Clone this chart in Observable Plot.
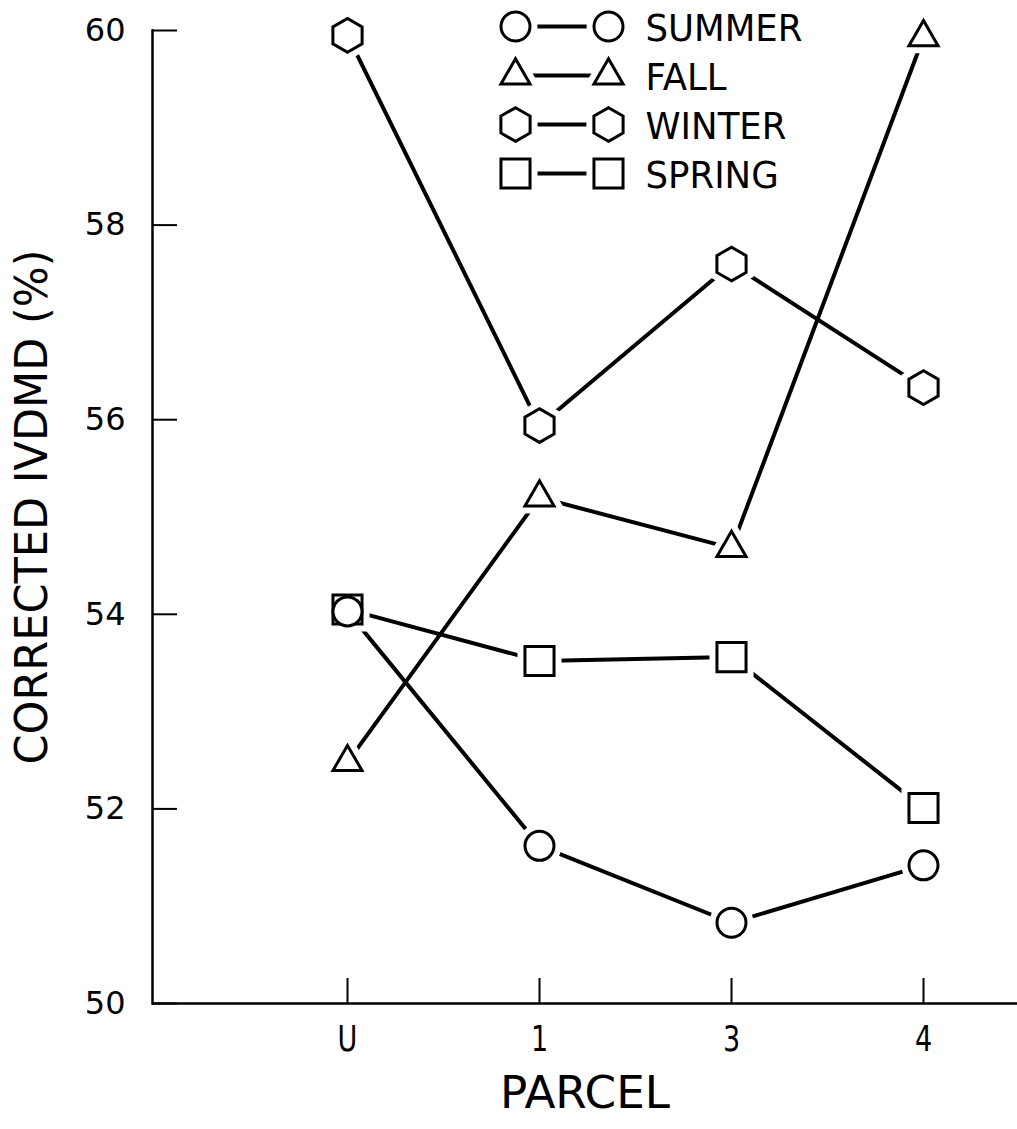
<!DOCTYPE html>
<html><head><meta charset="utf-8">
<script src="https://cdn.jsdelivr.net/npm/d3@7"></script>
<script src="https://cdn.jsdelivr.net/npm/@observablehq/plot@0.6"></script>
<style>
body{margin:0;background:#fff}
#wrap{position:relative;width:1017px;height:1129px;background:#fff}
#wrap svg.legend{position:absolute;left:480px;top:0}
</style>
</head><body><div id="wrap"></div>
<script>
// ---- data ----
const parcels = ["U", "1", "3", "4"];
const seasonNames = ["SUMMER", "FALL", "WINTER", "SPRING"];
const summer = [54.03, 51.62, 50.83, 51.42];
const fall = [52.48, 55.2, 54.68, 59.93];
const winter = [59.95, 55.94, 57.6, 56.33];
const spring = [54.05, 53.52, 53.56, 52.01];
const yTicks = [50, 52, 54, 56, 58, 60];
const yLabel = "CORRECTED IVDMD (%)";
const xLabel = "PARCEL";

// ---- styling ----
const series = {SUMMER: summer, FALL: fall, WINTER: winter, SPRING: spring};
const symbols = {SUMMER: "circle", FALL: "triangle", WINTER: "hexagon", SPRING: "square"};
const radii = {SUMMER: 14.5, FALL: 10.8, WINTER: 14.6, SPRING: 16.4};
const drawOrder = ["FALL", "WINTER", "SPRING", "SUMMER"];
const font = "'DejaVu Sans', 'Liberation Sans', sans-serif";

const rows = seasonNames.flatMap(s => parcels.map((p, i) => ({season: s, parcel: p, value: series[s][i]})));

const W = 1017, H = 1129, mL = 152, mR = 0, mT = 30, mB = 126;
const plotW = W - mL - mR, plotH = H - mT - mB;
const yLabelLength = 515;

function symbolMarks(data, xKey, yKey) {
  const halos = drawOrder.map(s => Plot.dot(data.filter(d => d.season === s), {
    x: xKey, y: yKey, symbol: symbols[s], r: radii[s], fill: "white", stroke: "white", strokeWidth: 15
  }));
  const dots = drawOrder.map(s => Plot.dot(data.filter(d => d.season === s), {
    x: xKey, y: yKey, symbol: symbols[s], r: radii[s], fill: "white", stroke: "black", strokeWidth: 3
  }));
  return [...halos, ...dots];
}

const chart = Plot.plot({
  width: W, height: H,
  marginLeft: mL, marginRight: mR, marginTop: mT, marginBottom: mB,
  style: {background: "white", color: "black"},
  x: {type: "point", domain: parcels, padding: 0.741, align: 0.675},
  y: {domain: [50, 60]},
  marks: [
    Plot.ruleY([50], {stroke: "black", strokeWidth: 2.5}),
    Plot.frame({anchor: "left", stroke: "black", strokeWidth: 2.5}),
    Plot.tickY(yTicks, {y: d => d, insetRight: plotW - 25, stroke: "black", strokeWidth: 2}),
    Plot.tickX(parcels, {x: d => d, insetTop: plotH - 25, stroke: "black", strokeWidth: 2}),
    Plot.axisY({ticks: yTicks, tickSize: 0, tickPadding: 27, fontSize: 32, fontFamily: font, label: null, fill: "black"}),
    Plot.axisX({tickSize: 0, tickPadding: 22, fontSize: 36, fontFamily: font, label: null, fill: "black"}),
    Plot.text([xLabel], {frameAnchor: "bottom", dy: 104, fontSize: 44, fontFamily: font, fill: "black"}),
    Plot.text([yLabel], {frameAnchor: "left", rotate: -90, textAnchor: "start", dx: -120, dy: -10 + yLabelLength / 2, fontSize: 45, fontFamily: font, fill: "black"}),
    Plot.line(rows, {x: "parcel", y: "value", z: "season", stroke: "black", strokeWidth: 4}),
    ...symbolMarks(rows, "parcel", "value")
  ]
});

// legend
const legendRows = seasonNames.flatMap(s => [0, 1].map(end => ({season: s, end})));
const legend = Plot.plot({
  width: 340, height: 200,
  marginLeft: 35, marginRight: 212, marginTop: 25, marginBottom: 26,
  style: {background: "transparent", color: "black", overflow: "visible"},
  x: {domain: [0, 1], axis: null},
  y: {type: "point", domain: seasonNames, padding: 0, axis: null},
  marks: [
    Plot.line(legendRows, {x: "end", y: "season", z: "season", stroke: "black", strokeWidth: 4}),
    ...symbolMarks(legendRows, "end", "season"),
    Plot.text(seasonNames, {x: () => 1, y: d => d, dx: 37, dy: 3, textAnchor: "start", fontSize: 37, fontFamily: font, fill: "black"})
  ]
});
legend.classList.add("legend");

const wrap = document.getElementById("wrap");
wrap.appendChild(chart);
wrap.appendChild(legend);

// condense lettering (the original uses a narrow lettering)
function condenseTo(node, len) {
  node.setAttribute("textLength", len.toFixed(1));
  node.setAttribute("lengthAdjust", "spacingAndGlyphs");
}
d3.select(chart).selectAll("text").each(function() {
  const t = this.textContent;
  if (t === yLabel) condenseTo(this, yLabelLength);
  else if (t === xLabel) condenseTo(this, 170);
  else if (parcels.includes(t)) condenseTo(this, this.getComputedTextLength() * 0.75);
});
d3.select(legend).selectAll("text").each(function() { condenseTo(this, this.getComputedTextLength() * 0.96); });
</script>
</body></html>
